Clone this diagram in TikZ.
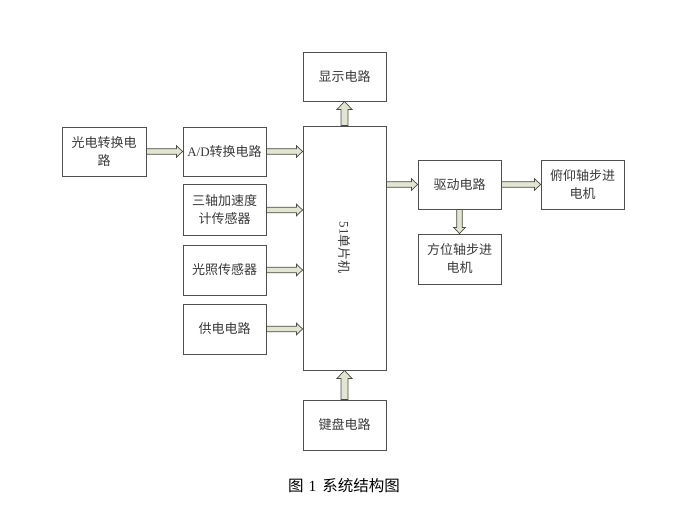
\documentclass[tikz,border=0pt]{standalone}
\usepackage{fontspec}
\setmainfont{Liberation Serif}
\newfontfamily\cjk{Noto Sans CJK SC}
\usetikzlibrary{calc}
\definecolor{boxline}{HTML}{505050}
\definecolor{arrfill}{HTML}{E3E5D3}
\definecolor{arrline}{HTML}{4A4A42}
\definecolor{txt}{HTML}{3A3A3A}
% block arrow: from, to, shaft half-width, head half-width, head length
\newcommand\blockarr[5]{%
  \coordinate (ba) at (#1);
  \coordinate (bb) at (#2);
  \coordinate (bh) at ($(bb)!#5!(ba)$);
  \draw[barrow] ($(ba)!#3!90:(bb)$) -- ($(bh)!#3!90:(bb)$) -- ($(bh)!#4!90:(bb)$)
     -- (bb) -- ($(bh)!#4!-90:(bb)$) -- ($(bh)!#3!-90:(bb)$) -- ($(ba)!#3!-90:(bb)$) -- cycle;}
\newcommand\smallarr[2]{\blockarr{#1}{#2}{2.8pt}{5.8pt}{6pt}}
\newcommand\bigarr[2]{\blockarr{#1}{#2}{3.5pt}{7.5pt}{8pt}}
\begin{document}
\begin{tikzpicture}[x=1pt,y=1pt,
  box/.style={draw=boxline, line width=0.9pt, fill=white, minimum width=83pt,
     minimum height=49pt, inner sep=1pt, align=center, text=txt,
     font=\cjk\fontsize{13}{18}\selectfont},
  barrow/.style={draw=arrline, fill=arrfill, line width=0.7pt, line join=miter}]
\useasboundingbox (0,0) rectangle (690,-510);
\fill[white] (0,0) rectangle (690,-510);
\node[box, minimum width=84pt] (pe) at (104,-151.5) {光电转换电\\路};
\node[box] (adc) at (224.5,-151.5) {{\rmfamily A/D}转换电路};
\node[box, minimum height=51pt] (acc) at (224.5,-210) {三轴加速度\\计传感器};
\node[box, minimum height=50pt] (light) at (224.5,-270) {光照传感器};
\node[box, minimum height=50pt] (pwr) at (224.5,-329) {供电电路};
\node[box, minimum height=244pt] (mcu) at (344.5,-248) {};
\node[rotate=-90, text=txt, font=\cjk\fontsize{13}{17}\selectfont] (mcut) at (mcu.center) {{\rmfamily 51}单片机};
\node[box] (disp) at (344.5,-76.5) {显示电路};
\node[box, minimum height=50pt] (kbd) at (344.5,-425) {键盘电路};
\node[box] (drv) at (459.5,-184.5) {驱动电路};
\node[box] (pitch) at (582.5,-184.5) {俯仰轴步进\\电机};
\node[box, minimum height=50pt] (azi) at (459.5,-259) {方位轴步进\\电机};
\node[text=black, font=\cjk\fontsize{15.5}{18}\selectfont] (cap) at (344,-486) {图\hspace{5pt}{\rmfamily 1}\hspace{6pt}系统结构图};
\smallarr{pe.east}{adc.west}
\smallarr{adc.east}{mcu.west |- adc.east}
\smallarr{acc.east}{mcu.west |- acc.east}
\smallarr{light.east}{mcu.west |- light.east}
\smallarr{pwr.east}{mcu.west |- pwr.east}
\bigarr{mcu.north}{disp.south}
\bigarr{kbd.north}{mcu.south}
\smallarr{mcu.east |- drv.west}{drv.west}
\smallarr{drv.east}{pitch.west}
\smallarr{drv.south}{azi.north}
\end{tikzpicture}
\end{document}
